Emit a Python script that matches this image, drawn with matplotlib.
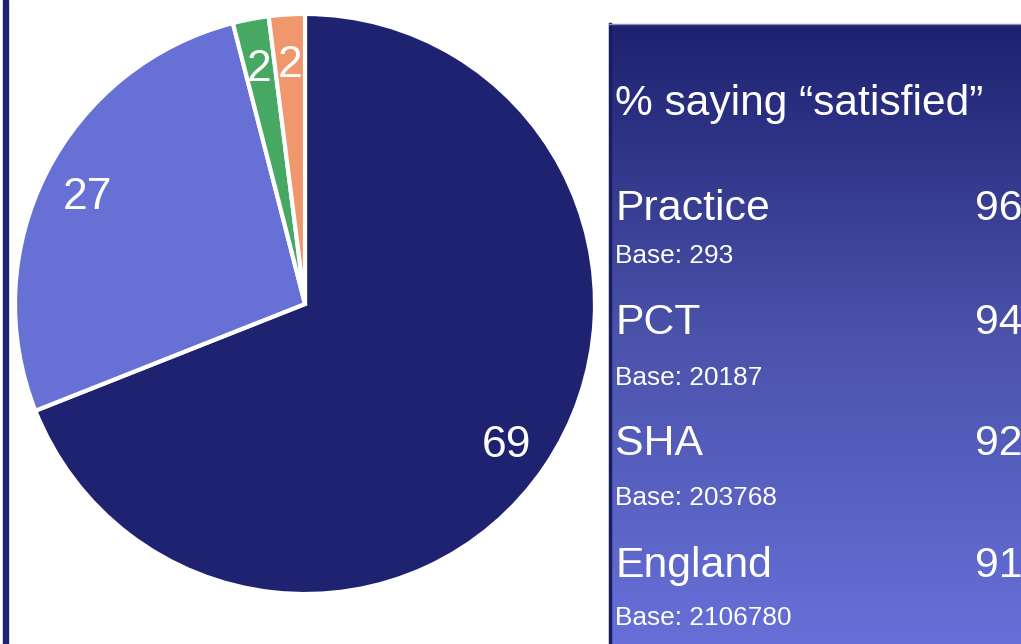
import numpy as np
import matplotlib
matplotlib.use("Agg")
import matplotlib.pyplot as plt
from matplotlib.patches import Rectangle
from matplotlib.colors import LinearSegmentedColormap

# Data
slice_values = [69, 27, 2, 2]
slice_labels = ["69", "27", "2", "2"]
slice_colors = ["#1E2270", "#6670D5", "#46A862", "#F0976E"]

panel_title = "% saying \u201csatisfied\u201d"
groups = ["Practice", "PCT", "SHA", "England"]
group_values = [96, 94, 92, 91]
group_bases = [293, 20187, 203768, 2106780]

plt.rcParams['font.family'] = ['Liberation Sans', 'DejaVu Sans']

W, H = 1021, 644
fig = plt.figure(figsize=(W / 100, H / 100), dpi=100)
ax = fig.add_axes([0, 0, 1, 1])

# Pie (pixel coordinates, y up)
cx, cy, r = 305, H - 304, 290
wedges, texts = ax.pie(
    slice_values, labels=slice_labels, colors=slice_colors,
    startangle=90, counterclock=False, center=(cx, cy), radius=r,
    labeldistance=0.84,
    wedgeprops=dict(edgecolor="white", linewidth=3),
    textprops=dict(color="white", fontsize=32, ha="center", va="center_baseline"),
)
ax.set_xlim(0, W)
ax.set_ylim(0, H)
ax.set_aspect("equal")
ax.axis("off")

# Left navy bar
ax.add_patch(Rectangle((3, 0), 4.5, H, color="#1E2270", zorder=5))

# Gradient panel
px0, px1, ptop = 609, W, H - 24
cmap = LinearSegmentedColormap.from_list("g", ["#6670D8", "#4A52AA", "#1E2170"])
grad = np.linspace(0, 1, 256).reshape(-1, 1)
ax.imshow(grad, extent=[px0, px1, 0, ptop], origin="lower", cmap=cmap,
          aspect="auto", zorder=2)
ax.plot([px0 + 1, px0 + 1], [0, ptop], color="#1A1E60", lw=2.5, zorder=3)
ax.plot([px0, px1], [ptop, ptop], color="#8A8DB0", lw=1, zorder=3)

tx = 615
ax.text(tx, H - 115, panel_title, color="white", fontsize=30.6, ha="left",
        va="baseline", zorder=4)
name_base = [220, 334, 455, 577]
base_base = [263, 385, 505, 625]
for g, v, b, yn, yb in zip(groups, group_values, group_bases, name_base, base_base):
    ax.text(tx, H - yn, g, color="white", fontsize=30.8, ha="left", va="baseline", zorder=4)
    ax.text(975, H - yn, str(v), color="white", fontsize=30.8, ha="left", va="baseline", zorder=4)
    ax.text(tx, H - yb, f"Base: {b}", color="white", fontsize=18.9, ha="left",
            va="baseline", zorder=4)

fig.savefig("out.png", dpi=100)
